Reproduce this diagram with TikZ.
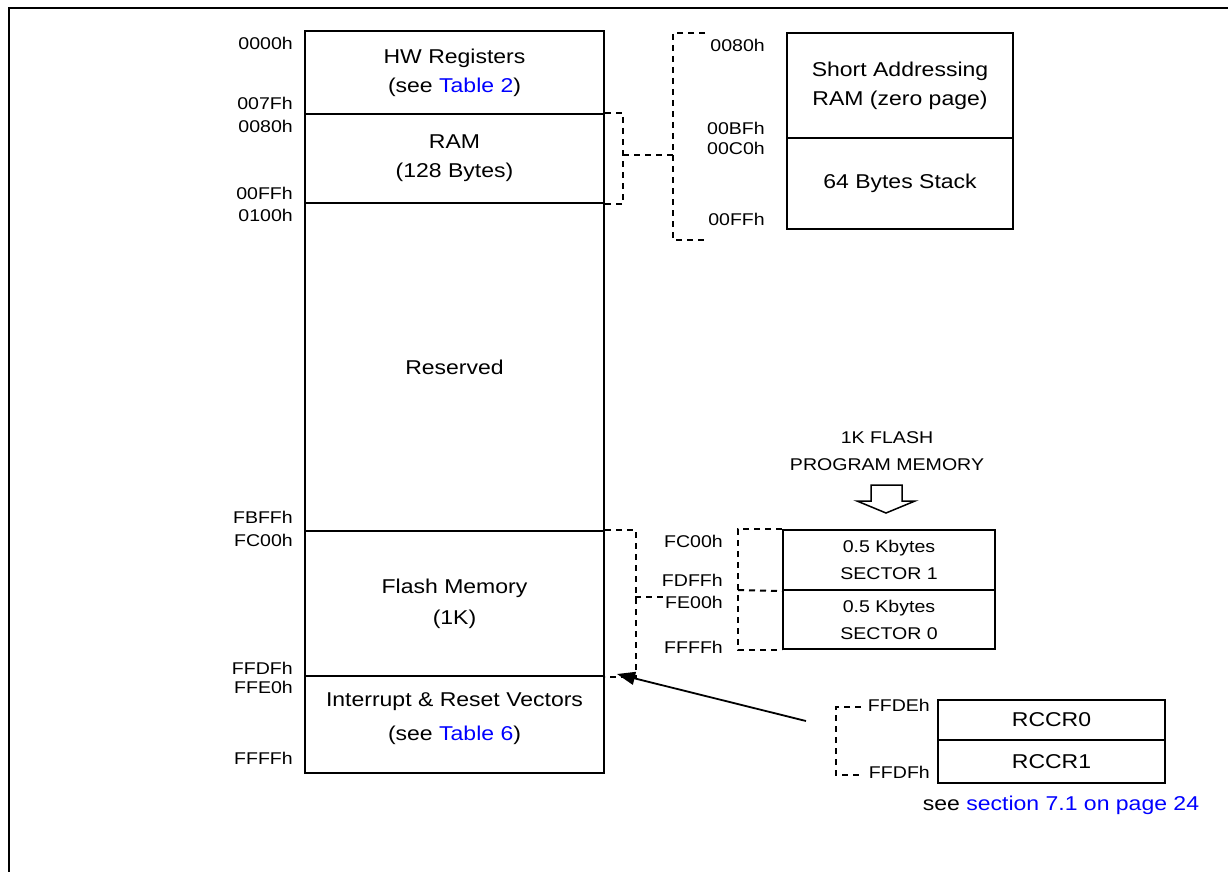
\documentclass[tikz,border=0pt]{standalone}
\usepackage{fontspec}
\setmainfont{Liberation Sans}[FakeStretch=1.15]
\usetikzlibrary{arrows.meta}
\newcommand{\bigtxt}{\fontsize{20}{29}\selectfont}
\newcommand{\smalltxt}{\fontsize{17}{27}\selectfont}

\begin{document}
\begin{tikzpicture}[x=1pt, y=-1pt,
    region/.style={draw, line width=2pt, align=center, inner sep=0pt, font=\bigtxt},
    addr/.style={font=\smalltxt, inner sep=0pt, anchor=east},
    brk/.style={line width=2pt, dash pattern=on 6pt off 5pt}]
    \useasboundingbox (0,0) rectangle (1228,872);
    \draw[line width=2.7pt] (9,872) -- (9,8) -- (1228,8);

    % memory map
    \node[region, minimum width=299, minimum height=83] (hw) at (454.5,72.5) {HW Registers\\(see \textcolor{blue}{Table 2})};
    \node[region, minimum width=299, minimum height=89] (ram) at (454.5,158.5) {RAM\\(128 Bytes)};
    \node[region, minimum width=299, minimum height=328] (rsv) at (454.5,367) {Reserved};
    \node[region, minimum width=299, minimum height=145] (flash) at (454.5,603.5) {Flash Memory\\[2pt](1K)};
    \node[region, minimum width=299, minimum height=97] (vec) at (454.5,724.5) {};
    \node[font=\bigtxt, align=center, inner sep=0pt] (vectxt) at (454.5,719) {Interrupt \& Reset Vectors\\[5pt](see \textcolor{blue}{Table 6})};

    \node[addr] (a0) at (293,43) {0000h};
    \node[addr] (a1) at (293,103) {007Fh};
    \node[addr] (a2) at (293,126) {0080h};
    \node[addr] (a3) at (293,193) {00FFh};
    \node[addr] (a4) at (293,215) {0100h};
    \node[addr] (a5) at (293,517) {FBFFh};
    \node[addr] (a6) at (293,540) {FC00h};
    \node[addr] (a7) at (293,668) {FFDFh};
    \node[addr] (a8) at (293,687) {FFE0h};
    \node[addr] (a9) at (293,758) {FFFFh};

    % zero page
    \node[region, minimum width=226, minimum height=105] (zp) at (900,85.5) {Short Addressing\\RAM (zero page)};
    \node[region, minimum width=226, minimum height=91] (stk) at (900,183.5) {64 Bytes Stack};
    \node[addr] (z0) at (765,45) {0080h};
    \node[addr] (z1) at (765,128) {00BFh};
    \node[addr] (z2) at (765,148) {00C0h};
    \node[addr] (z3) at (765,219) {00FFh};

    \coordinate (rm) at (623,155);
    \coordinate (zm) at (673,155);
    \coordinate (zt) at (705,33);
    \coordinate (zb) at (705,240);
    \draw[brk] (ram.north east) -- ++(18,0) |- (ram.south east);
    \draw[brk] (rm) -- (zm);
    \draw[brk] (zt) -| (zm) |- (zb);

    % flash sectors
    \node[font=\smalltxt, align=center, inner sep=0pt] (pm) at (887,451) {1K FLASH\\PROGRAM MEMORY};
    \draw[line width=1.5pt] (871,485) -- (902,485) -- (902,501) -- (915,501) -- (886,513) -- (857,501) -- (871,501) -- cycle;
    \node[region, font=\smalltxt, minimum width=212, minimum height=60] (s1) at (889,560) {0.5 Kbytes\\SECTOR 1};
    \node[region, font=\smalltxt, minimum width=212, minimum height=59] (s0) at (889,619.5) {0.5 Kbytes\\SECTOR 0};
    \node[addr] (f0) at (723,541) {FC00h};
    \node[addr] (f1) at (723,580) {FDFFh};
    \node[addr] (f2) at (723,602) {FE00h};
    \node[addr] (f3) at (723,647) {FFFFh};

    \coordinate (fm) at (635,597);
    \coordinate (fe) at (665,597);
    \coordinate (sx) at (738,590);
    \draw[brk] (flash.north east) -- ++(31,0) |- (flash.south east);
    \draw[brk] (fm) -- (fe);
    \draw[brk] (s1.north west) -| (sx) |- (s0.south west);
    \draw[brk] (sx) -- (s1.south west);

    % reset clock control
    \node[region, minimum width=227, minimum height=40] (c0) at (1051.5,720) {RCCR0};
    \node[region, minimum width=227, minimum height=43] (c1) at (1051.5,761.5) {RCCR1};
    \node[addr] (r0) at (930,705) {FFDEh};
    \node[addr] (r1) at (930,772) {FFDFh};
    \node[font=\bigtxt, inner sep=0pt] (see) at (1061,805) {see \textcolor{blue}{section 7.1 on page 24}};

    \coordinate (ct) at (861,707);
    \coordinate (cm) at (836,740);
    \coordinate (cb) at (861,775);
    \draw[brk] (ct) -| (cm) |- (cb);

    \coordinate (as) at (806,721);
    \coordinate (ae) at (617,674);
    \draw[line width=1.8pt, -{Triangle[length=18pt,width=13pt]}] (as) -- (ae);
\end{tikzpicture}
\end{document}
